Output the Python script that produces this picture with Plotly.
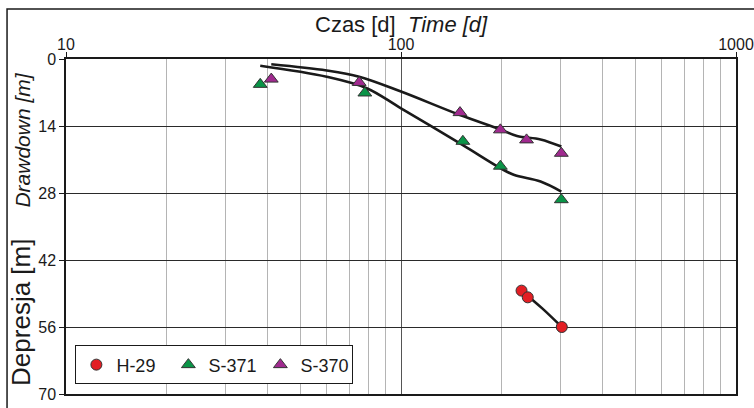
import plotly.graph_objects as go

# ---- data ----
h29_t = [229, 239, 302]
h29_s = [48.4, 49.8, 56.0]

s371_t = [38, 78, 153, 198, 301]
s371_s = [5.3, 7.1, 17.2, 22.4, 29.4]

s370_t = [41, 75, 150, 198, 237, 301]
s370_s = [4.2, 4.9, 11.2, 14.8, 16.9, 19.7]

fit370_t = [41, 60, 75, 100, 150, 198, 222, 261, 301]
fit370_s = [1.1, 2.4, 3.7, 6.8, 11.7, 14.7, 16.1, 16.8, 18.3]

fit371_t = [38, 60, 79, 100, 153, 198, 217, 261, 301]
fit371_s = [1.4, 3.7, 6.1, 10.3, 18.0, 22.8, 24.2, 25.6, 27.7]

fit29_t = [229, 264, 302]
fit29_s = [48.4, 52.1, 56.0]

x_major = [10, 100, 1000]
x_minor = [20, 30, 40, 50, 60, 70, 80, 90, 200, 300, 400, 500, 600, 700, 800, 900]
y_ticks = [0, 14, 28, 42, 56, 70]

FONT = "Liberation Sans, Arial, sans-serif"
RED = "#e31e24"
GREEN = "#0a9447"
PURPLE = "#a02a8f"
INK = "#1a1a1a"

fig = go.Figure()

for t, s in [(fit370_t, fit370_s), (fit371_t, fit371_s), (fit29_t, fit29_s)]:
    fig.add_trace(go.Scatter(x=t, y=s, mode="lines", line=dict(color=INK, width=2.6, shape="spline"),
                             showlegend=False, hoverinfo="skip"))

fig.add_trace(go.Scatter(x=h29_t, y=h29_s, mode="markers", name="H-29",
                         marker=dict(symbol="circle", size=11, color=RED, line=dict(color="#333", width=1))))
fig.add_trace(go.Scatter(x=s371_t, y=s371_s, mode="markers", name="S-371",
                         marker=dict(symbol="triangle-up", size=12, color=GREEN, line=dict(color="#333", width=1))))
fig.add_trace(go.Scatter(x=s370_t, y=s370_s, mode="markers", name="S-370",
                         marker=dict(symbol="triangle-up", size=12, color=PURPLE, line=dict(color="#333", width=1))))

fig.update_layout(
    width=754, height=408,
    margin=dict(l=66, r=18, t=59, b=14, autoexpand=False),
    paper_bgcolor="white", plot_bgcolor="white",
    font=dict(family=FONT, color=INK),
    xaxis=dict(type="log", side="top", range=[1, 3], automargin=False,
               tickmode="array", tickvals=x_major, ticktext=["10", "100", "1000"],
               ticks="outside", ticklen=5, tickcolor=INK, tickwidth=1,
               tickfont=dict(size=16, family=FONT), ticklabelstandoff=-4,
               showline=True, linecolor=INK, linewidth=1.5, mirror=True,
               showgrid=True, gridcolor="#555555", gridwidth=1.3,
               minor=dict(tickmode="array", tickvals=x_minor, showgrid=True,
                          gridcolor="#b4b4b4", gridwidth=1.3, ticks=""),
               zeroline=False),
    yaxis=dict(range=[70, 0], tickmode="array", tickvals=y_ticks, automargin=False,
               ticks="outside", ticklen=5, tickcolor=INK, tickwidth=1,
               tickfont=dict(size=16, family=FONT),
               showline=True, linecolor=INK, linewidth=1.5, mirror=True,
               showgrid=True, gridcolor="#2a2a2a", gridwidth=1.3, zeroline=False),
    legend=dict(orientation="h", x=0.014, y=0.145, xanchor="left", yanchor="top",
                bordercolor=INK, borderwidth=1, bgcolor="white",
                entrywidth=47, entrywidthmode="pixels",
                font=dict(size=18, family=FONT)),
    showlegend=True,
)

fig.add_annotation(xref="paper", yref="paper", x=0.5, y=1, yanchor="bottom", yshift=20,
                   text="Czas [d]&nbsp;&nbsp;<i>Time [d]</i>", showarrow=False,
                   font=dict(size=22, family=FONT, color=INK))
fig.add_annotation(xref="paper", yref="paper", x=0, y=0.242, xanchor="right", yanchor="middle",
                   xshift=-28, textangle=-90,
                   text="Depresja [m]", showarrow=False,
                   font=dict(size=26, family=FONT, color=INK))
fig.add_annotation(xref="paper", yref="paper", x=0, y=0.758, xanchor="right", yanchor="middle",
                   xshift=-30, textangle=-90,
                   text="<i>Drawdown [m]</i>", showarrow=False,
                   font=dict(size=21, family=FONT, color=INK))

# outer frame (partly outside the visible page)
fig.add_shape(type="path", xref="paper", yref="paper",
              path="M -0.088,-0.2 L -0.088,1.149 L 1.2,1.149",
              line=dict(color=INK, width=1.5))

fig.write_html("out.html")
